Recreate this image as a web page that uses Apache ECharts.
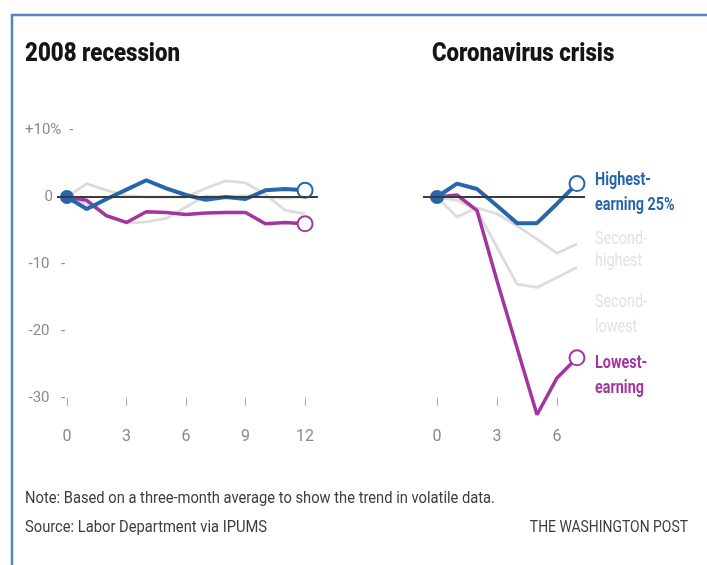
<!DOCTYPE html>
<html>
<head>
<meta charset="utf-8">
<script src="https://cdn.jsdelivr.net/npm/echarts@6/dist/echarts.min.js"></script>
<style>
  html, body { margin: 0; padding: 0; background: #fff; }
  #chart { width: 707px; height: 565px; }
</style>
</head>
<body>
<div id="chart"></div>
<script>
// months since start of each downturn
var months08 = [0, 1, 2, 3, 4, 5, 6, 7, 8, 9, 10, 11, 12];
var months20 = [0, 1, 2, 3, 4, 5, 6, 7];

// change in employment (%), 2008 recession
var high08 = [0, -1.8, -0.3, 1.1, 2.5, 1.3, 0.3, -0.4, 0, -0.3, 1, 1.2, 1];
var secHigh08 = [0, 2, 1, 0.2, 0, 0, 0, 1.3, 2.4, 2.1, 0.4, -2, -2.5];
var secLow08 = [0, -1, -2.8, -3.9, -3.7, -3.2, -1.5, 0.2, 0, 0.2, 0, -0.2, 0];
var low08 = [0, -0.5, -2.8, -3.8, -2.2, -2.3, -2.6, -2.4, -2.3, -2.3, -4, -3.8, -4];

// change in employment (%), coronavirus crisis
var high20 = [0, 2, 1.2, -1.3, -3.9, -3.9, -1, 2];
var secHigh20 = [0, -3, -1.6, -2.5, -4.3, -6.3, -8.4, -7];
var secLow20 = [0, -0.5, -2, -7.5, -13, -13.5, -12, -10.5];
var low20 = [0, 0.3, -2, -12.5, -22.5, -32.5, -27, -24];

var yTicks = [-30, -20, -10, 0, 10];
var xTicks08 = [0, 3, 6, 9, 12];
var xTicks20 = [0, 3, 6];
var names20 = ['Highest-\nearning 25%', 'Second-\nhighest', 'Second-\nlowest', 'Lowest-\nearning'];

// no condensed face is installed, so headline texts are squeezed with scaleX
var FONT = 'Roboto, sans-serif';
var BLUE = '#2566ad';
var PINK = '#a3369e';
var GRAY = '#dcdcdc';
var LABEL_GRAY = '#e2e2e2';

function pts(xs, ys, kind, color) {
	var last = ys.length - 1;
	return ys.map(function (v, i) {
		var d = { value: [xs[i], v] };
		if (kind === 'high' && i === 0) {
			d.symbol = 'circle';
			d.symbolSize = 14;
			d.itemStyle = { color: color };
		} else if (kind !== 'gray' && i === last) {
			d.symbol = 'emptyCircle';
			d.symbolSize = 15;
			d.itemStyle = { color: color, borderColor: color, borderWidth: 2 };
		} else {
			d.symbol = 'none';
		}
		return d;
	});
}

function line(name, xi, xs, ys, kind, color, width) {
	return {
		name: name,
		type: 'line',
		xAxisIndex: xi,
		yAxisIndex: xi,
		data: pts(xs, ys, kind, color),
		showSymbol: true,
		showAllSymbol: true,
		clip: false,
		silent: true,
		lineStyle: { color: color, width: width },
		itemStyle: { color: color }
	};
}

var zeroLine = {
	silent: true,
	symbol: 'none',
	label: { show: false },
	lineStyle: { color: '#3b3b3b', width: 2.2, type: 'solid' },
	data: [{ yAxis: 0 }]
};

function yLabel(v) {
	if (v === 10) return '{w|+10%}{d|-}';
	if (v === 0) return '{n|0}';
	return '{n|' + v + '}{d|-}';
}

// squeezed text helper (graphic)
function txt(text, x, y, size, weight, color, sx, align, lh) {
	return {
		type: 'text', x: x, y: y, scaleX: sx, silent: true,
		style: {
			text: text, fill: color, fontFamily: FONT, fontSize: size, fontWeight: weight,
			align: align || 'left', verticalAlign: 'middle', lineHeight: lh || size * 1.2
		}
	};
}

var tickStyle = { fontFamily: FONT, fontSize: 16, color: '#8a8a8a' };
var grayTxt = { fontFamily: FONT, fontSize: 15, color: '#8a8a8a' };

var chart = echarts.init(document.getElementById('chart'), null, { renderer: 'canvas' });

var option = {
	backgroundColor: '#fff',
	animation: false,
	graphic: [
		{ type: 'rect', shape: { x: 12, y: 15, width: 760, height: 620 },
		  style: { fill: 'none', stroke: '#5585c2', lineWidth: 2.5 }, silent: true },
		txt('2008 recession', 25, 54, 26, 900, '#151515', 0.855),
		txt('Coronavirus crisis', 432, 54, 26, 900, '#151515', 0.855),
		txt('Note: Based on a three-month average to show the trend in volatile data.', 25, 499, 16, 'normal', '#3d3d3d', 0.92),
		txt('Source: Labor Department via IPUMS', 25, 528, 16, 'normal', '#3d3d3d', 0.92),
		txt('THE WASHINGTON POST', 688, 528, 16, 'normal', '#3d3d3d', 0.87, 'right'),
		txt(names20[0], 595, 193, 18, 'bold', BLUE, 0.8, 'left', 25),
		txt(names20[1], 595, 250, 18, 'normal', LABEL_GRAY, 0.8, 'left', 22),
		txt(names20[2], 595, 315, 18, 'normal', LABEL_GRAY, 0.8, 'left', 25),
		txt(names20[3], 595, 376, 18, 'bold', PINK, 0.8, 'left', 25)
	],
	grid: [
		{ left: 57, top: 130, width: 261, height: 268 },
		{ left: 423, top: 130, width: 162, height: 268 }
	],
	xAxis: [
		{
			type: 'value', gridIndex: 0, min: -0.5, max: 12.65,
			splitLine: { show: false },
			axisLine: { show: false, onZero: false },
			axisTick: { show: true, customValues: xTicks08, length: 8, lineStyle: { color: '#a8a8a8', width: 1 } },
			axisLabel: Object.assign({ customValues: xTicks08, margin: 31 }, tickStyle)
		},
		{
			type: 'value', gridIndex: 1, min: -0.7, max: 7.4,
			splitLine: { show: false },
			axisLine: { show: false, onZero: false },
			axisTick: { show: true, customValues: xTicks20, length: 8, lineStyle: { color: '#a8a8a8', width: 1 } },
			axisLabel: Object.assign({ customValues: xTicks20, margin: 31 }, tickStyle)
		}
	],
	yAxis: [
		{
			type: 'value', gridIndex: 0, min: -30, max: 10, interval: 10,
			splitLine: { show: false },
			axisLine: { show: false, onZero: false },
			axisTick: { show: false },
			axisLabel: {
				align: 'left',
				margin: 32,
				customValues: yTicks,
				formatter: yLabel,
				rich: {
					n: Object.assign({ width: 28, align: 'right' }, grayTxt),
					w: Object.assign({}, grayTxt),
					d: Object.assign({ padding: [0, 0, 0, 8] }, grayTxt)
				}
			}
		},
		{
			type: 'value', gridIndex: 1, min: -30, max: 10, interval: 10,
			splitLine: { show: false },
			axisLine: { show: false, onZero: false },
			axisTick: { show: false },
			axisLabel: { show: false }
		}
	],
	series: [
		Object.assign(line('Second-highest 2008', 0, months08, secHigh08, 'gray', GRAY, 2.8), { markLine: zeroLine }),
		line('Second-lowest 2008', 0, months08, secLow08, 'gray', GRAY, 2.8),
		line('Lowest-earning 2008', 0, months08, low08, 'low', PINK, 3.5),
		line('Highest-earning 2008', 0, months08, high08, 'high', BLUE, 4),

		Object.assign(line('Second-highest 2020', 1, months20, secHigh20, 'gray', GRAY, 2.8), { markLine: zeroLine }),
		line('Second-lowest 2020', 1, months20, secLow20, 'gray', GRAY, 2.8),
		line('Lowest-earning 2020', 1, months20, low20, 'low', PINK, 3.5),
		line('Highest-earning 2020', 1, months20, high20, 'high', BLUE, 4)
	]
};

chart.setOption(option);
</script>
</body>
</html>
